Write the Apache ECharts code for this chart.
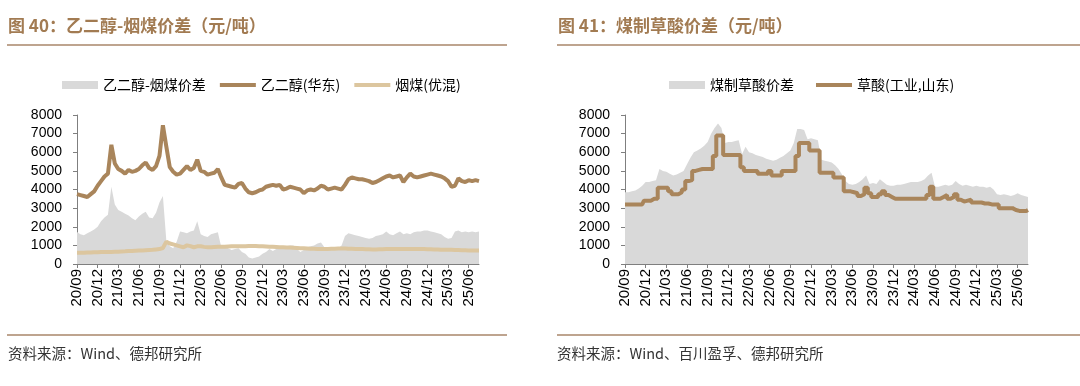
<!DOCTYPE html>
<html><head><meta charset="utf-8">
<script src="https://cdn.jsdelivr.net/npm/echarts@6/dist/echarts.min.js"></script>
<style>html,body{margin:0;padding:0;background:#fff}#c{width:1080px;height:386px}</style>
</head><body><div id="c"></div>
<script>
// x categories: semi-monthly dates from 2020-09-01 to 2025-07-16
const categories = [];
for (let i = 0; i < 118; i++) {
  const mi = 8 + Math.floor(i / 2);
  const y = 2020 + Math.floor(mi / 12);
  const m = mi % 12 + 1;
  categories.push(y + '-' + String(m).padStart(2, '0') + '-' + (i % 2 ? '16' : '01'));
}
const yTicks = [0, 1000, 2000, 3000, 4000, 5000, 6000, 7000, 8000];

// Figure 40
const egSpread = [
  1720,1600,1550,1650,1750,1850,2000,2300,2500,2650,4150,3200,
  2900,2800,2700,2600,2450,2350,2550,2700,2800,2500,2450,2750,
  3300,3650,1250,950,850,1200,1750,1700,1650,1750,1800,2300,
  1600,1500,1450,1600,1650,1700,900,950,850,750,800,850,
  650,550,350,300,350,400,550,650,800,700,800,850,
  900,950,1000,1000,800,650,750,900,950,1000,1100,1150,
  900,850,900,850,850,1000,1500,1650,1600,1550,1500,1450,
  1400,1350,1400,1500,1550,1600,1750,1600,1550,1650,1750,1600,
  1650,1600,1700,1750,1750,1800,1800,1750,1700,1650,1600,1450,
  1350,1400,1750,1800,1700,1750,1700,1750,1700,1750
];
const egPrice = [
  3750,3700,3650,3600,3750,3900,4200,4450,4700,4850,6400,5400,
  5100,5000,4850,5050,4950,5000,5100,5300,5450,5150,5050,5250,
  5800,7450,6300,5200,4950,4800,4850,5050,5250,5050,5150,5600,
  5000,4950,4800,4850,4900,5100,4650,4250,4200,4150,4100,4300,
  4350,4050,3850,3800,3850,3950,4000,4150,4200,4250,4200,4250,
  4000,4050,4150,4100,4050,4000,3800,3950,4000,3950,4050,4200,
  4150,4000,4050,4100,4050,4000,4250,4550,4650,4600,4550,4550,
  4500,4450,4350,4400,4500,4600,4700,4750,4650,4700,4750,4400,
  4650,4850,4700,4650,4700,4750,4800,4850,4800,4750,4700,4600,
  4450,4150,4200,4600,4450,4400,4500,4450,4500,4450
];
const coalPrice = [
  600,600,610,620,620,630,630,640,640,650,650,660,
  660,670,680,700,700,710,720,730,740,750,760,780,
  800,860,1200,1100,1050,1000,950,900,1000,960,900,950,
  950,920,900,900,910,920,920,930,940,950,950,950,
  950,950,960,960,960,950,950,940,930,920,910,900,
  900,890,880,870,860,850,840,830,820,820,810,800,
  800,810,820,820,830,830,830,820,820,810,800,800,
  790,790,780,780,790,790,800,800,800,810,810,810,
  810,810,810,800,800,800,790,790,780,780,770,770,
  760,760,750,750,740,740,730,730,730,730
];
// Figure 41
const oxSpread = [
  3850,3850,3900,3950,4050,4200,4400,4400,4450,4500,5100,5000,
  4950,4850,4750,4800,4900,5000,5350,5700,6000,6100,6200,6350,
  6550,7000,7300,7550,7300,6500,6550,6550,6600,6650,5900,6300,
  6000,5950,5850,5800,5750,5650,5600,5550,5600,5700,5800,5950,
  6100,6500,7250,7250,7200,6700,6750,6700,6650,5600,5550,5500,
  5450,5300,5100,4800,4450,4300,4250,4300,4400,4550,4750,4300,
  4350,4300,4550,4400,4250,4200,4200,4250,4250,4300,4350,4400,
  4400,4400,4450,4550,4750,4900,4150,4150,4200,4250,4200,4250,
  4450,4300,4200,4250,4200,4150,4200,4150,4150,4100,4150,4000,
  3750,3700,3750,3700,3650,3700,3800,3700,3650,3600
];
const oxPrice = [
  3200,3200,3200,3200,3200,3200,3400,3400,3500,3500,4100,4100,
  4100,3900,3750,3750,3850,4000,4450,4500,5000,5050,5100,5100,
  5100,5100,5800,6900,6900,5850,5850,5850,5850,5850,5200,5000,
  5000,5000,5000,4850,4850,4850,5000,4750,4750,4750,5000,5000,
  5000,5000,5800,6500,6500,6500,6100,6100,6100,4900,4900,4900,
  4900,4650,4650,4650,3900,3900,3850,3800,3650,3750,4100,3800,
  3600,3600,3750,3900,3700,3600,3500,3500,3500,3500,3500,3500,
  3500,3500,3500,3500,3700,4150,3500,3500,3600,3700,3500,3600,
  3750,3450,3350,3400,3450,3300,3300,3300,3250,3250,3200,3200,
  3200,3000,3000,3000,3000,2900,2850,2850,2850,2900
];

const BROWN = '#a9855b', TAN = '#dcc69f', GREY = '#d9d9d9', RULE = '#a8866a', TITLE = '#a27b52';
const FONT = '"Noto Sans CJK SC", sans-serif';
const NUM = '"Liberation Sans", Arial, sans-serif';
const lineIcon = 'path://M0,0h36v4h-36z';

function xAxis(gi) {
  return {
    type: 'category', gridIndex: gi, data: categories, boundaryGap: false,
    axisLine: { lineStyle: { color: '#7f7f7f', width: 1 } },
    axisTick: { interval: 5, length: 4, lineStyle: { color: '#7f7f7f' } },
    axisLabel: { interval: 5, rotate: 90, margin: 5, color: '#000', fontSize: 15, fontFamily: NUM,
      formatter: v => v.slice(2, 4) + '/' + v.slice(5, 7) },
    splitLine: { show: false }
  };
}
function yAxis(gi) {
  return {
    type: 'value', gridIndex: gi, min: yTicks[0], max: yTicks[yTicks.length - 1], interval: 1000,
    axisLine: { show: true, lineStyle: { color: '#7f7f7f', width: 1 } },
    axisTick: { show: true, length: 4, lineStyle: { color: '#7f7f7f' } },
    axisLabel: { margin: 15, color: '#000', fontSize: 14, fontFamily: NUM, formatter: v => String(v) },
    splitLine: { show: false }
  };
}
function area(name, data, gi) {
  return { name, type: 'line', xAxisIndex: gi, yAxisIndex: gi, data, symbol: 'none', z: 1,
    itemStyle: { color: GREY }, lineStyle: { width: 0, color: GREY },
    areaStyle: { color: GREY, opacity: 1 } };
}
function line(name, data, gi, color, step) {
  return { name, type: 'line', xAxisIndex: gi, yAxisIndex: gi, data, symbol: 'none', z: 3,
    step: step || false,
    itemStyle: { color }, lineStyle: { width: 4, color } };
}

const chart = echarts.init(document.getElementById('c'), null, { renderer: 'canvas' });
chart.setOption({
  animation: false,
  backgroundColor: '#fff',
  grid: [
    { left: 77, top: 115, width: 402, height: 149 },
    { left: 625, top: 115, width: 403, height: 149 }
  ],
  xAxis: [xAxis(0), xAxis(1)],
  yAxis: [yAxis(0), yAxis(1)],
  legend: [
    { left: 57, top: 73, itemWidth: 36, itemHeight: 8, itemGap: 14,
      textStyle: { fontSize: 14, color: '#000', fontFamily: FONT },
      itemStyle: { borderWidth: 0 },
      data: [
        { name: '乙二醇-烟煤价差', icon: 'rect' },
        { name: '乙二醇(华东)', icon: lineIcon },
        { name: '烟煤(优混)', icon: lineIcon }
      ] },
    { left: 664, top: 73, itemWidth: 36, itemHeight: 8, itemGap: 22,
      textStyle: { fontSize: 14, color: '#000', fontFamily: FONT },
      itemStyle: { borderWidth: 0 },
      data: [
        { name: '煤制草酸价差', icon: 'rect' },
        { name: '草酸(工业,山东)', icon: lineIcon }
      ] }
  ],
  series: [
    area('乙二醇-烟煤价差', egSpread, 0),
    line('乙二醇(华东)', egPrice, 0, BROWN),
    line('烟煤(优混)', coalPrice, 0, TAN),
    area('煤制草酸价差', oxSpread, 1),
    line('草酸(工业,山东)', oxPrice, 1, BROWN, 'middle')
  ],
  graphic: [
    { type: 'text', left: 8, top: 17, style: { text: '图 40：乙二醇-烟煤价差（元/吨）', font: 'bold 17px ' + FONT, fill: TITLE } },
    { type: 'text', left: 558, top: 17, style: { text: '图 41：煤制草酸价差（元/吨）', font: 'bold 17px ' + FONT, fill: TITLE } },
    { type: 'line', shape: { x1: 7, y1: 45, x2: 507, y2: 45 }, style: { stroke: RULE, lineWidth: 1.5 } },
    { type: 'line', shape: { x1: 557, y1: 45, x2: 1080, y2: 45 }, style: { stroke: RULE, lineWidth: 1.5 } },
    { type: 'line', shape: { x1: 7, y1: 335, x2: 507, y2: 335 }, style: { stroke: RULE, lineWidth: 1.5 } },
    { type: 'line', shape: { x1: 557, y1: 335, x2: 1080, y2: 335 }, style: { stroke: RULE, lineWidth: 1.5 } },
    { type: 'text', left: 8, top: 346, style: { text: '资料来源：Wind、德邦研究所', font: '14.5px ' + FONT, fill: '#333' } },
    { type: 'text', left: 557, top: 346, style: { text: '资料来源：Wind、百川盈孚、德邦研究所', font: '14.5px ' + FONT, fill: '#333' } }
  ]
});
</script>
</body></html>
